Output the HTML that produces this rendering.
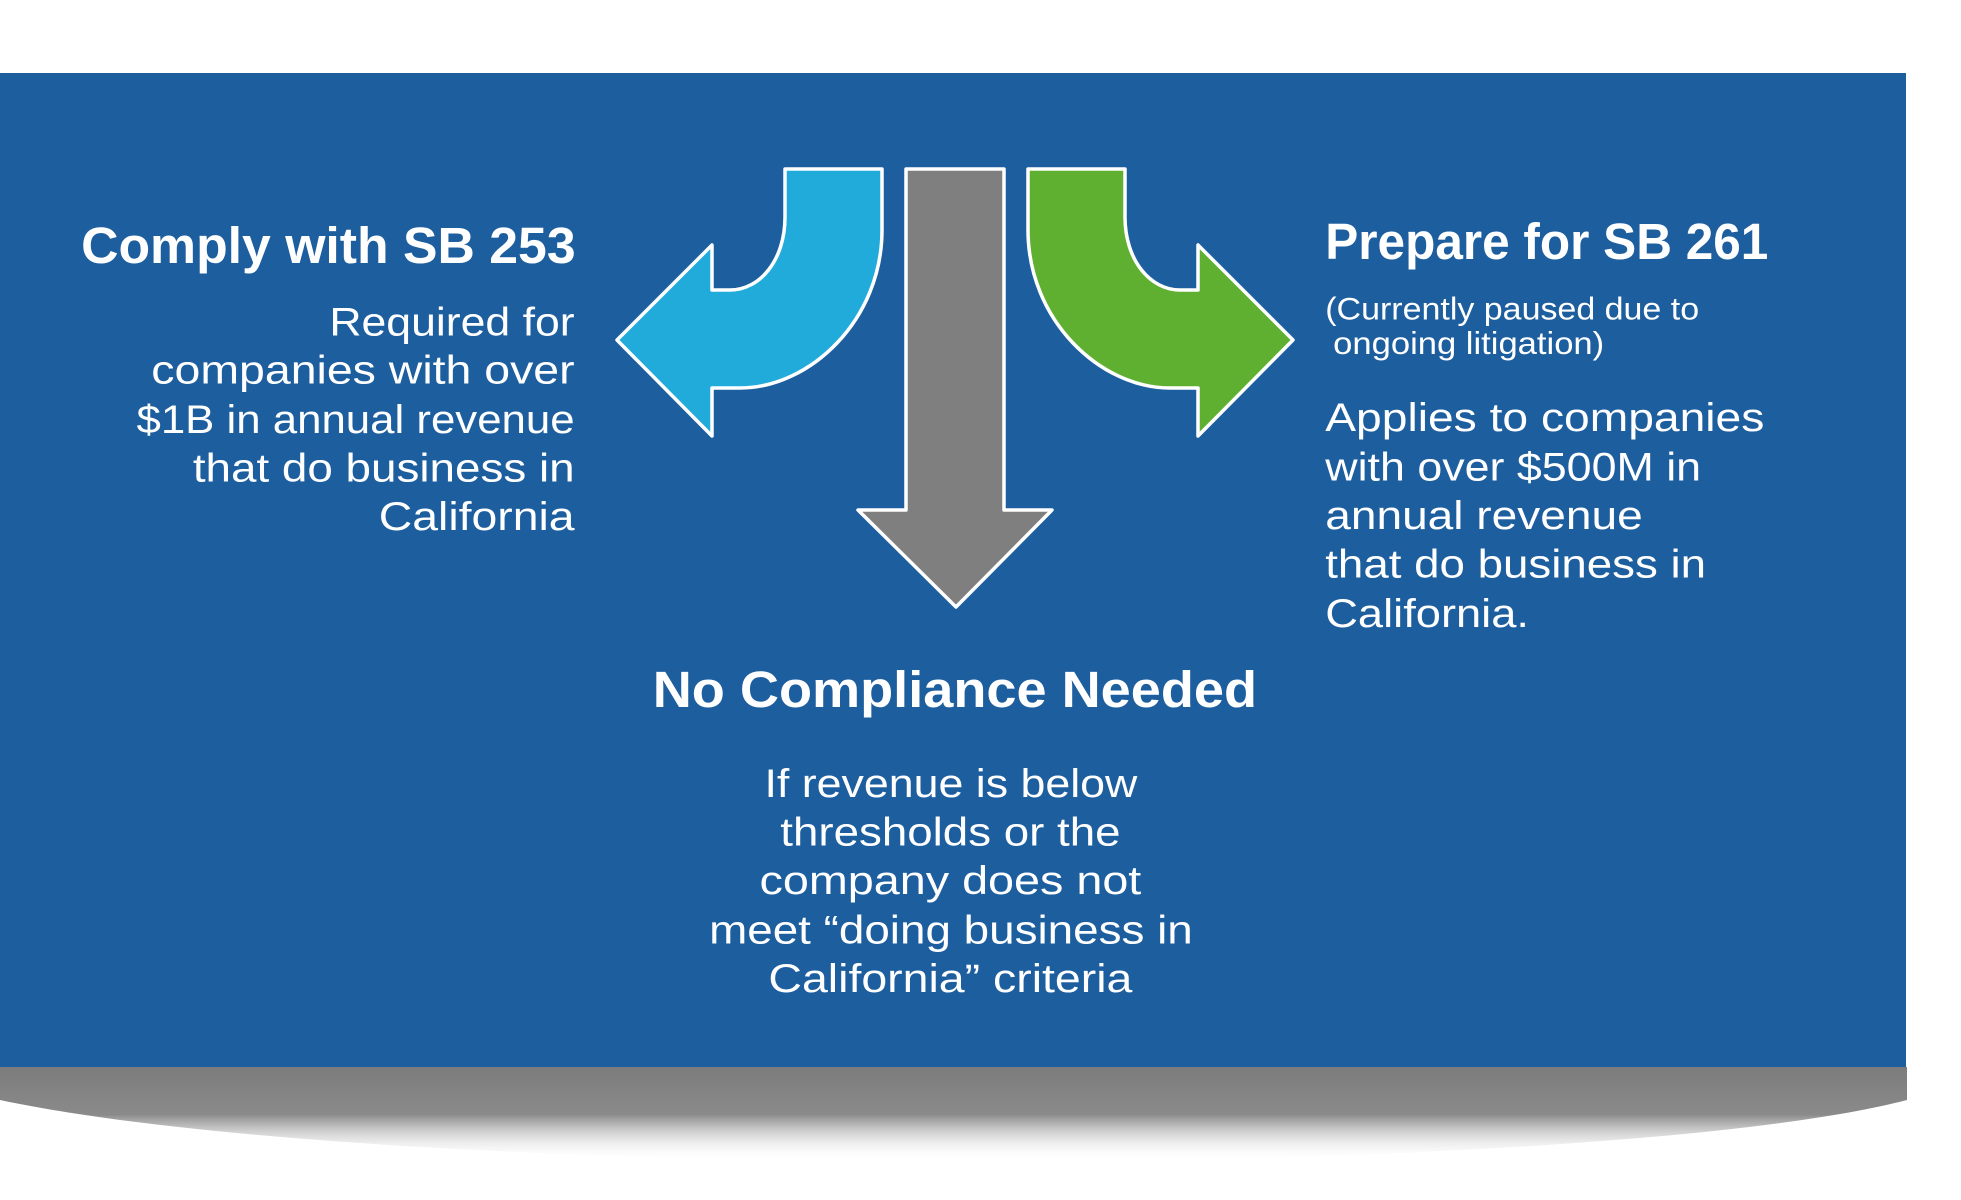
<!DOCTYPE html>
<html><head><meta charset="utf-8"><style>
html,body{margin:0;padding:0;background:#fff;}
svg{display:block;}
text{font-family:"Liberation Sans",sans-serif;fill:#fff;}
</style></head><body>
<svg width="1961" height="1200" viewBox="0 0 1961 1200" xmlns="http://www.w3.org/2000/svg">
<defs>
<linearGradient id="shv" x1="0" y1="0" x2="0" y2="1">
<stop offset="0" stop-color="#7c7c7c"/>
<stop offset="0.5" stop-color="#8a8a8a"/>
<stop offset="1" stop-color="#fff" stop-opacity="0"/>
</linearGradient>
</defs>
<rect width="1961" height="1200" fill="#fff"/>
<path d="M0,1067 L1907,1067 L1907,1100 C1600,1180 400,1185 0,1100 Z" fill="url(#shv)"/>
<rect x="0" y="73" width="1906" height="994" fill="#1d5e9f"/>
<g stroke="#fff" stroke-width="3.5" stroke-linejoin="round">
<path d="M785,169 L882,169 L882,230 C882,320 810,388 740,388 L712,388 L712,436 L617,340 L712,245 L712,290 L730,290 C760,290 785,260 785,217 Z" fill="#21abdb"/>
<path d="M1125,169 L1028,169 L1028,230 C1028,320 1100,388 1170,388 L1198,388 L1198,436 L1293,340 L1198,245 L1198,290 L1180,290 C1150,290 1125,260 1125,217 Z" fill="#5fb031"/>
<path d="M906,169 L1004,169 L1004,510 L1052,510 L956,607 L858,510 L906,510 Z" fill="#7f7f7f"/>
</g>
<g transform="scale(0.989)">
<g font-weight="bold" font-size="52">
<text x="82" y="266" textLength="500" lengthAdjust="spacingAndGlyphs">Comply with SB 253</text>
<text x="1340" y="262" textLength="448" lengthAdjust="spacingAndGlyphs">Prepare for SB 261</text>
<text x="660" y="715" textLength="611" lengthAdjust="spacingAndGlyphs">No Compliance Needed</text>
</g>
<g font-size="40">
<text x="333" y="339" textLength="248" lengthAdjust="spacingAndGlyphs">Required for</text>
<text x="153" y="388" textLength="428" lengthAdjust="spacingAndGlyphs">companies with over</text>
<text x="138" y="438" textLength="443" lengthAdjust="spacingAndGlyphs">$1B in annual revenue</text>
<text x="195" y="487" textLength="386" lengthAdjust="spacingAndGlyphs">that do business in</text>
<text x="383" y="536" textLength="198" lengthAdjust="spacingAndGlyphs">California</text>

<text x="1340" y="436" textLength="444" lengthAdjust="spacingAndGlyphs">Applies to companies</text>
<text x="1340" y="486" textLength="380" lengthAdjust="spacingAndGlyphs">with over $500M in</text>
<text x="1340" y="535" textLength="321" lengthAdjust="spacingAndGlyphs">annual revenue</text>
<text x="1340" y="584" textLength="385" lengthAdjust="spacingAndGlyphs">that do business in</text>
<text x="1340" y="634" textLength="206" lengthAdjust="spacingAndGlyphs">California.</text>

<text x="773" y="806" textLength="377" lengthAdjust="spacingAndGlyphs">If revenue is below</text>
<text x="789" y="855" textLength="344" lengthAdjust="spacingAndGlyphs">thresholds or the</text>
<text x="768" y="904" textLength="386" lengthAdjust="spacingAndGlyphs">company does not</text>
<text x="717" y="954" textLength="489" lengthAdjust="spacingAndGlyphs">meet “doing business in</text>
<text x="777" y="1003" textLength="368" lengthAdjust="spacingAndGlyphs">California” criteria</text>
</g>
<g font-size="32">
<text x="1340" y="323" textLength="378" lengthAdjust="spacingAndGlyphs">(Currently paused due to</text>
<text x="1348" y="358" textLength="274" lengthAdjust="spacingAndGlyphs">ongoing litigation)</text>
</g>
</g>
</svg>
</body></html>
